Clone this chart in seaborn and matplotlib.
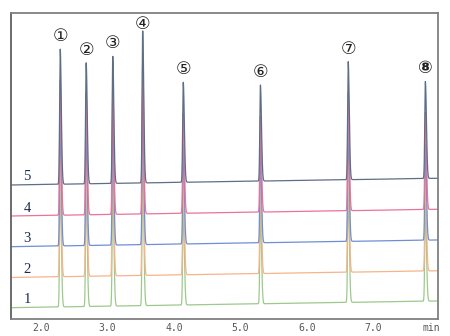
import numpy as np
import pandas as pd
import matplotlib
matplotlib.use("Agg")
import matplotlib.pyplot as plt
import seaborn as sns

# ---- data ----
retention_times = [2.29, 2.68, 3.08, 3.53, 4.14, 5.30, 6.62, 7.78]   # min
peak_heights = [135, 121, 127, 152, 100, 96, 118, 97]               # signal units
peak_labels = ["①", "②", "③", "④", "⑤", "⑥", "⑦", "⑧"]
trace_names = ["1", "2", "3", "4", "5"]
trace_offsets = [11.3, 41.5, 72.3, 103.0, 134.0]                    # baseline at start
baseline_drift = [1.05, 1.05, 1.05, 1.05, 1.05]                     # per min
trace_colors = ["#9dc98c", "#f6b48a", "#6f8fd2", "#e97399", "#5d6f86"]
tick_values = [2.0, 3.0, 4.0, 5.0, 6.0, 7.0]
tick_labels = ["2.0", "3.0", "4.0", "5.0", "6.0", "7.0"]

x_min, x_max = 1.55, 7.97
sigma_left, sigma_right = 0.009, 0.016

t = np.arange(x_min, x_max, 0.0005)


def peak_shape(tt, rt, h):
    s = np.where(tt < rt, sigma_left, sigma_right)
    return h * np.exp(-0.5 * ((tt - rt) / s) ** 2)


frames = []
for name, off, drift in zip(trace_names, trace_offsets, baseline_drift):
    y = off + drift * (t - x_min)
    for rt, h in zip(retention_times, peak_heights):
        y = y + peak_shape(t, rt, h)
    frames.append(pd.DataFrame({"time": t, "signal": y, "trace": name}))
df = pd.concat(frames, ignore_index=True)

sns.set_style("white")
fig = plt.figure(figsize=(4.5, 3.36), dpi=100)
ax = fig.add_axes([11 / 450, 17 / 336, 427 / 450, 306 / 336])

sns.lineplot(data=df, x="time", y="signal", hue="trace",
             palette=dict(zip(trace_names, trace_colors)),
             estimator=None, sort=False, linewidth=0.9, legend=False, ax=ax)

ax.set_xlim(x_min, x_max)
ax.set_ylim(0, 306)
ax.set_xlabel("")
ax.set_ylabel("")
ax.set_yticks([])
ax.set_xticks(tick_values)
ax.set_xticklabels(tick_labels, fontsize=7, color="#555555", family="DejaVu Sans Mono")
ax.tick_params(axis="x", length=0, pad=3)
ax.text(7.87, -4, "min", fontsize=7, color="#555555", family="DejaVu Sans Mono",
        ha="center", va="top")

for sp in ax.spines.values():
    sp.set_color("#808080")
    sp.set_linewidth(1.3)
ax.spines["left"].set_color("#606060")

# peak labels above top trace
top_off = trace_offsets[-1]
top_drift = baseline_drift[-1]
for i, (rt, h, lab) in enumerate(zip(retention_times, peak_heights, peak_labels)):
    ytop = top_off + top_drift * (rt - x_min) + h
    dy = 7 if i == 3 else 13
    ax.text(rt, ytop + dy, lab, fontsize=12.5, ha="center", va="center",
            color="#222222", family=["DejaVu Sans"],
            fontweight="bold" if i == 7 else "normal")

# trace labels at the left
for name, off in zip(trace_names, trace_offsets):
    ax.text(1.79, off + 8, name, fontsize=10.5, ha="center", va="center",
            color="#1c2a4e", family="Liberation Serif")

fig.savefig("out.png", dpi=100)
